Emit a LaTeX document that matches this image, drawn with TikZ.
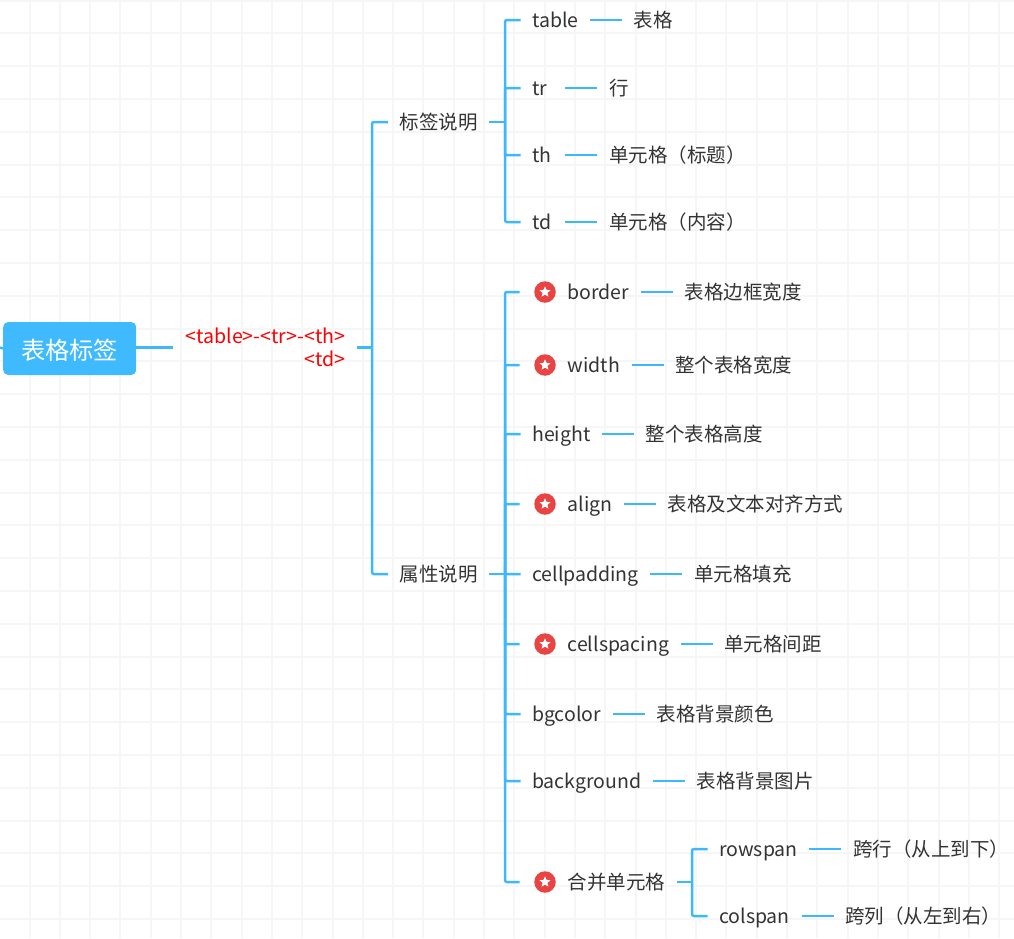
\documentclass[tikz,border=0pt]{standalone}
\usepackage{fontspec}
\setmainfont{Noto Sans CJK SC}
\usepackage{tikz}
\usetikzlibrary{
  positioning,
  shapes.geometric
}
\definecolor{linkblue}{RGB}{61,184,255}
\definecolor{topicblue}{RGB}{64,186,255}
\definecolor{textgray}{RGB}{51,51,51}
\definecolor{gridgray}{RGB}{246,246,246}
\definecolor{starred}{RGB}{232,68,68}
\tikzset{
  maintopic/.style={fill=topicblue, rounded corners=5pt, text=white,
    minimum width=133pt, minimum height=53pt, inner sep=0pt,
    text height=24pt, text depth=3pt,
    font=\fontsize{24.2}{28}\selectfont},
  topic/.style={text=textgray, inner xsep=11.5pt, inner ysep=0pt,
    text height=19pt, text depth=5pt,
    font=\fontsize{19.5}{23}\selectfont},
  shorttopic/.style={topic, text width=21.5pt, align=left},
  redtopic/.style={text=red, inner xsep=12pt, inner ysep=0pt, align=right,
    font=\fontsize{19.6}{23}\selectfont},
  redball/.style={circle, fill=starred, minimum size=21.5pt, inner sep=0pt},
  whitestar/.style={star, star points=5, star point ratio=2.2, fill=white,
    minimum size=11.5pt, inner sep=0pt},
  conn/.style={draw=linkblue, line width=2.5pt, rounded corners=2pt},
  gridline/.style={draw=gridgray, line width=1.5pt},
}
\begin{document}
\begin{tikzpicture}[x=1pt, y=-1pt, node distance=32pt]
  \useasboundingbox (0,0) rectangle (1014,938);

  % Paper grid
  \foreach \k in {0,...,32} \draw[gridline] ({round(29.5+30.3*\k)},0) -- ({round(29.5+30.3*\k)},938);
  \foreach \k in {0,...,28} \draw[gridline] (0,{round(0.5+32.8*\k)}) -- (1014,{round(0.5+32.8*\k)});

  % Root
  \node[maintopic, anchor=west] (root) at (3,348.5) {表格标签};
  \node[redtopic, right=37pt of root, yshift=1pt] (summary) {<table>-<tr>-<th>\\<td>};
  \coordinate (stub) at (0,347.5);
  \coordinate (trunk) at (372,347.5);

  % Branches
  \node[topic, anchor=west] (tags) at (388,122) {标签说明};
  \node[topic, anchor=west] (attrs) at (388,574) {属性说明};
  \coordinate (tagsbus) at (505,122);
  \coordinate (attrsbus) at (505,574);

  % Tags
  \node[topic, anchor=west] (table) at (520.5,20) {table};
  \node[topic, right=of table] (tabledesc) {表格};
  \node[shorttopic, anchor=west] (tr) at (520.5,88) {tr};
  \node[topic, right=of tr] (trdesc) {行};
  \node[shorttopic, anchor=west] (th) at (520.5,155) {th};
  \node[topic, right=of th] (thdesc) {单元格（标题）};
  \node[shorttopic, anchor=west] (td) at (520.5,222) {td};
  \node[topic, right=of td] (tddesc) {单元格（内容）};

  % Attributes
  \node[redball] (borderball) at (545,292) {};
  \node[topic, right=0pt of borderball] (border) {border};
  \node[topic, right=of border] (borderdesc) {表格边框宽度};
  \node[redball] (widthball) at (545,365) {};
  \node[topic, right=0pt of widthball] (width) {width};
  \node[topic, right=of width] (widthdesc) {整个表格宽度};
  \node[topic, anchor=west] (height) at (520.5,434) {height};
  \node[topic, right=of height] (heightdesc) {整个表格高度};
  \node[redball] (alignball) at (545,504) {};
  \node[topic, right=0pt of alignball] (align) {align};
  \node[topic, right=of align] (aligndesc) {表格及文本对齐方式};
  \node[topic, anchor=west] (cellpadding) at (520.5,574) {cellpadding};
  \node[topic, right=of cellpadding] (paddingdesc) {单元格填充};
  \node[redball] (spacingball) at (545,644) {};
  \node[topic, right=0pt of spacingball] (cellspacing) {cellspacing};
  \node[topic, right=of cellspacing] (spacingdesc) {单元格间距};
  \node[topic, anchor=west] (bgcolor) at (520.5,714) {bgcolor};
  \node[topic, right=of bgcolor] (bgcolordesc) {表格背景颜色};
  \node[topic, anchor=west] (background) at (520.5,781) {background};
  \node[topic, right=of background] (backgrounddesc) {表格背景图片};
  \node[redball] (mergeball) at (545,882) {};
  \node[topic, right=0pt of mergeball] (merge) {合并单元格};
  \coordinate (mergebus) at (692,882);

  % Merge children
  \node[topic, anchor=west] (rowspan) at (707.5,849) {rowspan};
  \node[topic, right=of rowspan] (rowspandesc) {跨行（从上到下）};
  \node[topic, anchor=west] (colspan) at (707.5,916) {colspan};
  \node[topic, right=of colspan] (colspandesc) {跨列（从左到右）};

  \foreach \b in {borderball,widthball,alignball,spacingball,mergeball}
    \node[whitestar, name=\b star] at (\b) {};

  % Connectors
  \draw[conn] (stub) -- (root.west);
  \draw[conn] (root.east |- stub) -- (summary.west |- stub);
  \draw[conn] (summary.east |- trunk) -- (trunk);
  \draw[conn] (trunk) |- (tags.west);
  \draw[conn] (trunk) |- (attrs.west);

  \draw[conn] (tags.east) -- (tagsbus);
  \foreach \n/\d in {table/tabledesc,tr/trdesc,th/thdesc,td/tddesc} {
    \draw[conn] (tagsbus) |- (\n.west);
    \draw[conn] (\n.east) -- (\d.west);
  }

  \draw[conn] (attrs.east) -- (attrsbus);
  \foreach \n in {height,cellpadding,bgcolor,background}
    \draw[conn] (attrsbus) |- (\n.west);
  \foreach \n in {borderball,widthball,alignball,spacingball,mergeball}
    \draw[conn, shorten >=14.5pt] (attrsbus) |- (\n.west);
  \foreach \n/\d in {border/borderdesc,width/widthdesc,height/heightdesc,
      align/aligndesc,cellpadding/paddingdesc,cellspacing/spacingdesc,
      bgcolor/bgcolordesc,background/backgrounddesc,
      rowspan/rowspandesc,colspan/colspandesc}
    \draw[conn] (\n.east) -- (\d.west);

  \draw[conn] (merge.east) -- (mergebus);
  \draw[conn] (mergebus) |- (rowspan.west);
  \draw[conn] (mergebus) |- (colspan.west);
\end{tikzpicture}
\end{document}
